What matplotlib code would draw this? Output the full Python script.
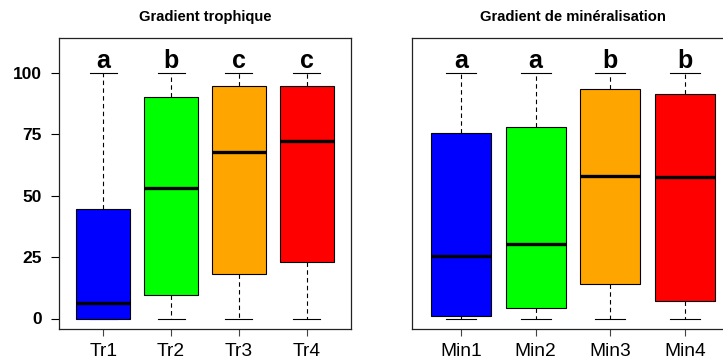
import matplotlib
matplotlib.use("Agg")
import matplotlib.pyplot as plt

plt.rcParams['font.family'] = ['Liberation Sans', 'DejaVu Sans']

# box statistics (min, Q1, median, Q3, max)
tr_labels = ["Tr1", "Tr2", "Tr3", "Tr4"]
tr_min = [0, 0, 0, 0]
tr_q1 = [0, 9.7, 18.2, 23.1]
tr_med = [6.4, 53.3, 68.0, 72.2]
tr_q3 = [44.6, 90.1, 94.6, 94.6]
tr_max = [100, 100, 100, 100]
tr_letters = ["a", "b", "c", "c"]

min_labels = ["Min1", "Min2", "Min3", "Min4"]
min_min = [0, 0, 0, 0]
min_q1 = [1.2, 4.4, 14.1, 7.1]
min_med = [25.6, 30.3, 58.0, 57.6]
min_q3 = [75.5, 78.2, 93.5, 91.3]
min_max = [100, 100, 100, 100]
min_letters = ["a", "a", "b", "b"]

colors = ["#0000FF", "#00FF00", "#FFA500", "#FF0000"]
yticks = [0, 25, 50, 75, 100]


def makeStats(lo, q1, med, q3, hi):
    return [dict(whislo=a, q1=b, med=c, q3=d, whishi=e, fliers=[])
            for a, b, c, d, e in zip(lo, q1, med, q3, hi)]


def drawPanel(ax, stats, labels, letters, title, show_y):
    pos = list(range(1, len(stats) + 1))
    bp = ax.bxp(stats, positions=pos, widths=0.8, capwidths=0.4,
                patch_artist=True, showfliers=False,
                boxprops=dict(linewidth=0.8, edgecolor="black"),
                medianprops=dict(color="black", linewidth=2.4, solid_capstyle="butt"),
                whiskerprops=dict(color="black", linewidth=0.8, linestyle=(0, (4, 3))),
                capprops=dict(color="black", linewidth=0.8))
    for patch, c in zip(bp['boxes'], colors):
        patch.set_facecolor(c)
    for p, s, l in zip(pos, stats, letters):
        ax.text(p, s['whishi'] + 2, l, ha='center', va='baseline',
                fontsize=18, fontweight='bold')
    ax.set_xlim(0.34, 4.66)
    ax.set_ylim(-4.4, 114.4)
    ax.set_xticks(pos)
    ax.set_xticklabels(labels, fontsize=13.8)
    ax.tick_params(axis='x', length=5, width=0.8, pad=5, color='#444444')
    if show_y:
        ax.set_yticks(yticks)
        ax.set_yticklabels([str(v) for v in yticks], fontsize=12.5, fontweight='bold')
        ax.tick_params(axis='y', length=6, width=0.8, pad=6)
    else:
        ax.set_yticks([])
    for sp in ax.spines.values():
        sp.set_linewidth(0.9)
        sp.set_color('#222222')
    fig = ax.figure
    bb = ax.get_position()
    fig.text((bb.x0 + bb.x1) / 2, 1 - 20.7 / 363, title, ha='center', va='baseline',
             fontsize=10.6, fontweight='bold')


fig = plt.figure(figsize=(7.23, 3.63), dpi=100)
ax1 = fig.add_axes([58.7 / 723, 33.7 / 363, 292.6 / 723, 291.6 / 363])
ax2 = fig.add_axes([411.7 / 723, 33.7 / 363, 322.6 / 723, 291.6 / 363])

drawPanel(ax1, makeStats(tr_min, tr_q1, tr_med, tr_q3, tr_max), tr_labels,
          tr_letters, "Gradient trophique", True)
drawPanel(ax2, makeStats(min_min, min_q1, min_med, min_q3, min_max), min_labels,
          min_letters, "Gradient de minéralisation", False)

fig.savefig("out.png", dpi=100)
